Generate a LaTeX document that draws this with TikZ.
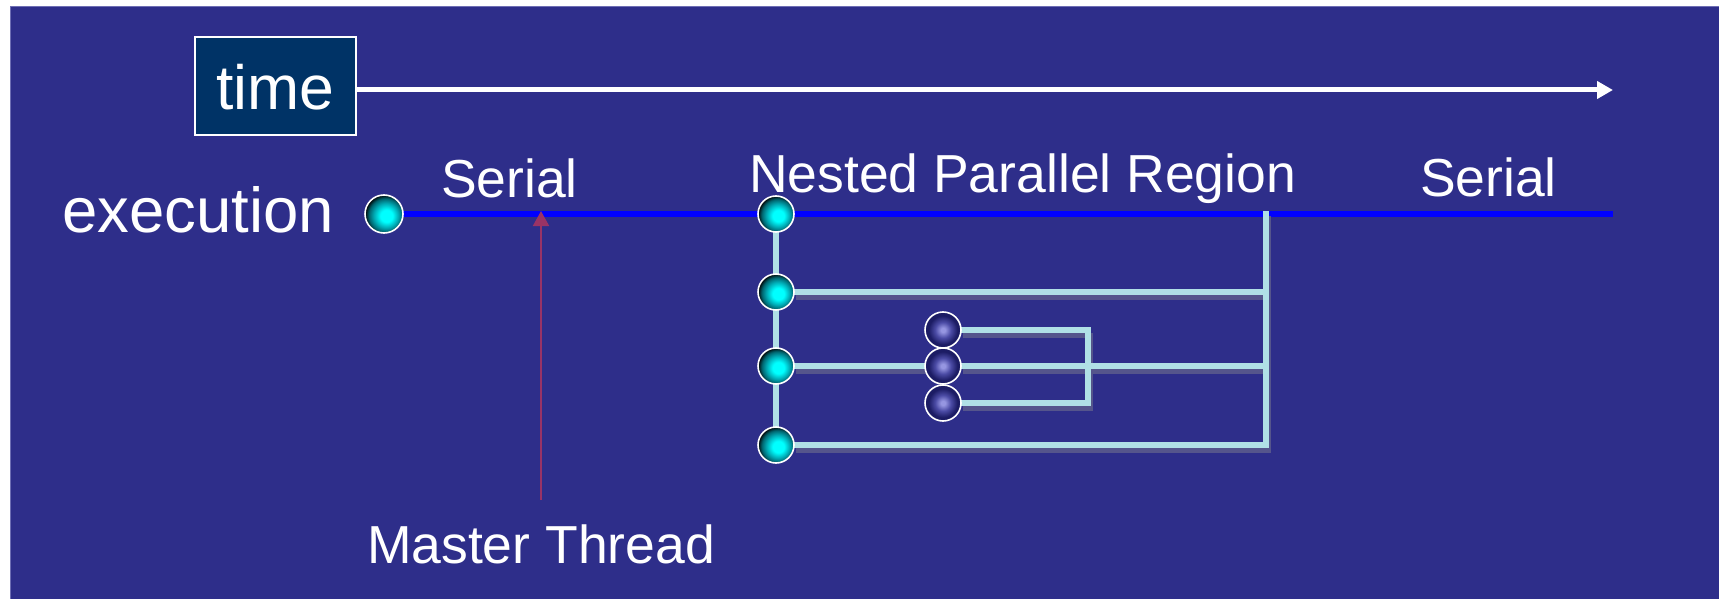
\documentclass[tikz,border=0pt]{standalone}
\usepackage{fontspec}
\setmainfont{Liberation Sans}
\usetikzlibrary{arrows.meta}

\definecolor{slide}{RGB}{46,46,138}
\definecolor{slideedge}{RGB}{110,110,180}
\definecolor{timebox}{RGB}{0,51,102}
\definecolor{wire}{RGB}{176,224,230}
\definecolor{wireshade}{RGB}{85,85,140}
\definecolor{execblue}{RGB}{0,0,255}
\definecolor{masterred}{RGB}{153,51,102}
\definecolor{ballcore}{RGB}{0,255,255}
\definecolor{ballmid}{RGB}{0,170,180}
\definecolor{ballrim}{RGB}{0,100,110}
\definecolor{nestcore}{RGB}{150,150,225}
\definecolor{nestmid}{RGB}{75,75,165}
\definecolor{nestrim}{RGB}{28,28,100}

% thread balls: bright core, darker rim, black towards the upper left
\pgfdeclareradialshading{cyanball}{\pgfpoint{4bp}{-3bp}}{%
  color(0bp)=(ballcore); color(8bp)=(ballcore); color(16bp)=(ballmid);
  color(22bp)=(ballrim); color(27bp)=(black); color(50bp)=(black)}
\pgfdeclareradialshading{nestball}{\pgfpoint{0bp}{0bp}}{%
  color(0bp)=(nestcore); color(3bp)=(nestcore); color(11bp)=(nestmid);
  color(20bp)=(nestrim); color(50bp)=(nestrim)}

\pgfdeclarelayer{back}
\pgfdeclarelayer{wires}
\pgfsetlayers{back,wires,main}

\begin{document}
\begin{tikzpicture}[x=1pt,y=-1pt,
  every node/.style={inner sep=0pt,outer sep=0pt},
  lbl/.style={text=white,anchor=base west,font=\fontsize{53.5}{60}\selectfont},
  biglbl/.style={text=white,anchor=base west,font=\fontsize{63.5}{70}\selectfont},
  timelbl/.style={draw=white,line width=1.5pt,fill=timebox,text=white,
    minimum width=161pt,minimum height=98pt,text height=48pt,text depth=0pt,
    font=\fontsize{62.5}{70}\selectfont},
  masterball/.style={circle,minimum size=38pt,draw=white,line width=1.6pt,shading=cyanball},
  forkball/.style={circle,minimum size=36pt,draw=white,line width=1.6pt,shading=cyanball},
  nestedball/.style={circle,minimum size=36pt,draw=white,line width=1.6pt,shading=nestball},
  wireline/.style={draw=wire,line width=5.5pt,line join=miter},
  wireshadow/.style={draw=wireshade,line width=5pt,line join=miter,
    transform canvas={xshift=2pt,yshift=-5pt}},
  execline/.style={draw=execblue,line width=6pt},
  timearrow/.style={draw=white,line width=5pt,-{Triangle[length=16pt,width=17pt]}},
  masterarrow/.style={draw=masterred,line width=2pt,-{Triangle[length=15pt,width=16pt]}}
]
\useasboundingbox (0,0) rectangle (1719,599);

% slide background
\begin{pgfonlayer}{back}
  \fill[white] (0,0) rectangle (1719,599);
  \fill[slide] (10.5,6.7) rectangle (1719,599);
  \draw[slideedge,line width=1pt] (10.5,599) -- (10.5,6.7) -- (1719,6.7);
\end{pgfonlayer}

% time axis
\node[timelbl] (time) at (275.5,86) {time};
\coordinate (tend) at (1613,90);

% labels
\node[biglbl] (exec) at (62,232) {execution};
\node[lbl] (serialA) at (441,197) {Serial};
\node[lbl] (nested) at (749,193) {Nested Parallel Region};
\node[lbl] (serialB) at (1420,196) {Serial};
\node[lbl,anchor=base] (master) at (541,563) {Master Thread};

% master thread and team of threads
\node[masterball] (m) at (384,214) {};
\node[forkball] (f0) at (776,214) {};
\node[forkball] (f1) at (776,292) {};
\node[forkball] (f2) at (776,366) {};
\node[forkball] (f3) at (776,445) {};
\node[nestedball] (n1) at (943,330) {};
\node[nestedball] (n2) at (943,366) {};
\node[nestedball] (n3) at (943,403) {};

% join points
\coordinate (xend) at (1613,214);
\coordinate (j0) at (1266,211);
\coordinate (j1) at (1266,292);
\coordinate (j2) at (1266,366);
\coordinate (j3) at (1266,445);
\coordinate (k1) at (1088,330);
\coordinate (k3) at (1088,403);
\coordinate (mt) at (541,500);
\coordinate (mtip) at (541,211);

\begin{pgfonlayer}{wires}
  \draw[execline] (m) -- (xend);
  \draw[timearrow] (time.east |- tend) -- (tend);
  % drop shadows of the thread lines
  \draw[wireshadow] (f1) -- (j1);
  \draw[wireshadow] (f2) -- (n2) -- (j2);
  \draw[wireshadow] (f3) -- (j3) -- (j0);
  \draw[wireshadow] (n1) -- (k1) -- (k3) -- (n3);
  % thread lines
  \draw[wireline] (f0) -- (f3);
  \draw[wireline] (f1) -- (j1);
  \draw[wireline] (f2) -- (n2) -- (j2);
  \draw[wireline] (f3) -- (j3) -- (j0);
  \draw[wireline] (n1) -- (k1) -- (k3) -- (n3);
  \draw[masterarrow] (mt) -- (mtip);
\end{pgfonlayer}
\end{tikzpicture}
\end{document}
